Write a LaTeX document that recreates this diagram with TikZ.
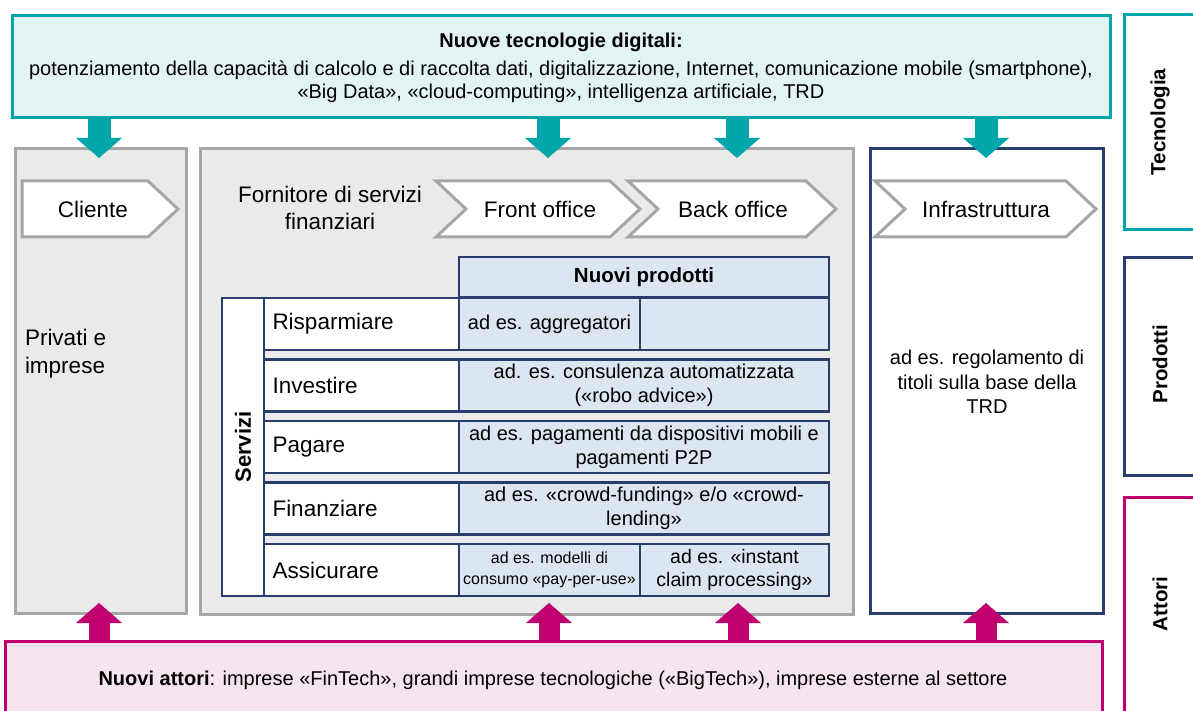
\documentclass[tikz,border=0pt]{standalone}
\usepackage{fontspec}
\setmainfont{Liberation Sans}
\usetikzlibrary{arrows.meta}
\definecolor{tealc}{RGB}{0,166,170}
\definecolor{tealf}{RGB}{226,243,243}
\definecolor{navyc}{RGB}{42,62,110}
\definecolor{magc}{RGB}{192,0,110}
\definecolor{magf}{RGB}{246,228,238}
\definecolor{greyb}{RGB}{166,166,166}
\definecolor{greyf}{RGB}{234,234,234}
\definecolor{bluef}{RGB}{220,230,242}
\begin{document}
\begin{tikzpicture}[x=1pt,y=-1pt,
  every node/.style={inner sep=0pt, outer sep=0pt},
  box/.style={draw, line width=3pt, inner sep=0pt, anchor=north west},
  chev/.style={draw=greyb, fill=white, line width=3pt, line join=miter},
  tarr/.style={draw=tealc, line width=23pt, -{Triangle[width=46pt,length=20pt,line width=0pt]}},
  marr/.style={draw=magc, line width=21pt, -{Triangle[width=46pt,length=20pt,line width=0pt]}},
  chevtext/.style={font=\fontsize{22.5}{27}\selectfont},
  cell/.style={draw=navyc, line width=2.6pt, anchor=north west, minimum height=52pt},
  lab/.style={cell, fill=white, text width=178pt, inner xsep=8.5pt, align=left, font=\fontsize{22.5}{26}\selectfont},
  prod/.style={cell, fill=bluef, align=center, font=\fontsize{20}{24}\selectfont},
  tab/.style={draw, line width=3pt, fill=white, anchor=north west, minimum width=90pt},
  tablab/.style={rotate=90, font=\fontsize{20.5}{24}\selectfont\bfseries}
]
\useasboundingbox (0,0) rectangle (1193,711);

% right tabs
\node[tab, draw=tealc, minimum height=215pt] (ttec) at (1124,15) {};
\node[tab, draw=navyc, minimum height=217pt] (tprod) at (1124,258) {};
\node[tab, draw=magc, minimum height=230pt] (tatt) at (1124,497) {};
\node[tablab] (ltec) at (1160,122) {Tecnologia};
\node[tablab] (lprod) at (1160,364) {Prodotti};
\node[tablab] (latt) at (1160,604) {Attori};

% top banner
\node[box, draw=tealc, fill=tealf, minimum width=1098pt, minimum height=102pt] (banner) at (12,16) {};
\node[align=center, font=\fontsize{20}{23}\selectfont] (bt) at (561,68)
  {\textbf{Nuove tecnologie digitali:}\\[5pt]
   potenziamento della capacità di calcolo e di raccolta dati, digitalizzazione, Internet, comunicazione mobile (smartphone),\\
   «Big Data», «cloud-computing», intelligenza artificiale, TRD};

% bottom banner
\node[box, draw=magc, fill=magf, minimum width=1097pt, minimum height=90pt] (bottom) at (5,641) {};
\node[font=\fontsize{20}{24}\selectfont] (bbt) at (553,680)
  {\textbf{Nuovi attori}: imprese «FinTech», grandi imprese tecnologiche («BigTech»), imprese esterne al settore};

% main columns
\node[box, draw=greyb, fill=greyf, minimum width=171pt, minimum height=464pt] (cliente) at (15,149) {};
\node[box, draw=greyb, fill=greyf, minimum width=653pt, minimum height=465pt] (forn) at (200,149) {};
\node[box, draw=navyc, fill=white, minimum width=233pt, minimum height=464pt] (infra) at (870,149) {};

% chevrons
\draw[chev] (22,181) -- (148,181) -- (178,209) -- (148,237) -- (22,237) -- cycle;
\draw[chev] (436,181) -- (610,181) -- (640,209) -- (610,237) -- (436,237) -- (466,209) -- cycle;
\draw[chev] (628,181) -- (806,181) -- (836,209) -- (806,237) -- (628,237) -- (658,209) -- cycle;
\draw[chev] (875,181) -- (1066,181) -- (1096,209) -- (1066,237) -- (875,237) -- (905,209) -- cycle;
\node[chevtext] (cl) at (93,209) {Cliente};
\node[chevtext] (fo) at (540,209) {Front office};
\node[chevtext] (bo) at (733,209) {Back office};
\node[chevtext] (inf) at (986,209) {Infrastruttura};

\node[align=center, font=\fontsize{22.5}{27}\selectfont] (fornt) at (330,208) {Fornitore di servizi\\finanziari};
\node[align=left, anchor=west, font=\fontsize{22.5}{28}\selectfont] (priv) at (25,354) {Privati e\\imprese};
\node[align=center, font=\fontsize{20}{24.5}\selectfont] (infrat) at (987,382) {ad es. regolamento di\\titoli sulla base della\\TRD};

% table
\node[cell, fill=bluef, minimum width=370pt, minimum height=40pt, font=\fontsize{20.5}{24}\selectfont\bfseries] (np) at (459,257) {Nuovi prodotti};
\node[cell, fill=white, minimum width=42pt, minimum height=298pt] (serv) at (222,298) {};
\node[rotate=90, font=\fontsize{22}{26}\selectfont\bfseries] (servt) at (243,447) {Servizi};

\node[lab] (r1) at (264,298) {Risparmiare};
\node[prod, minimum width=181pt] (p1a) at (459,298) {ad es. aggregatori};
\node[prod, minimum width=189pt] (p1b) at (640,298) {};

\node[lab] (r2) at (264,359.5) {Investire};
\node[prod, minimum width=370pt] (p2) at (459,359.5) {ad. es. consulenza automatizzata\\(«robo advice»)};

\node[lab] (r3) at (264,421) {Pagare};
\node[prod, minimum width=370pt] (p3) at (459,421) {ad es. pagamenti da dispositivi mobili e\\pagamenti P2P};

\node[lab] (r4) at (264,482.5) {Finanziare};
\node[prod, minimum width=370pt] (p4) at (459,482.5) {ad es. «crowd-funding» e/o «crowd-\\lending»};

\node[lab] (r5) at (264,544) {Assicurare};
\node[prod, minimum width=181pt, font=\fontsize{16}{21}\selectfont] (p5a) at (459,544) {ad es. modelli di\\consumo «pay-per-use»};
\node[prod, minimum width=189pt, font=\fontsize{19.5}{23}\selectfont] (p5b) at (640,544) {ad es. «instant\\claim processing»};

% teal arrows
\coordinate (a1) at (99,158);
\coordinate (a2) at (548,158);
\coordinate (a3) at (737,158);
\coordinate (a4) at (986,158);
\foreach \a in {a1,a2,a3,a4} \draw[tarr] (banner.south -| \a) -- (\a);

% magenta arrows
\coordinate (b1) at (99,603);
\coordinate (b2) at (549,603);
\coordinate (b3) at (738,603);
\coordinate (b4) at (986,603);
\foreach \b in {b1,b2,b3,b4} \draw[marr] (bottom.north -| \b) -- (\b);
\end{tikzpicture}
\end{document}
